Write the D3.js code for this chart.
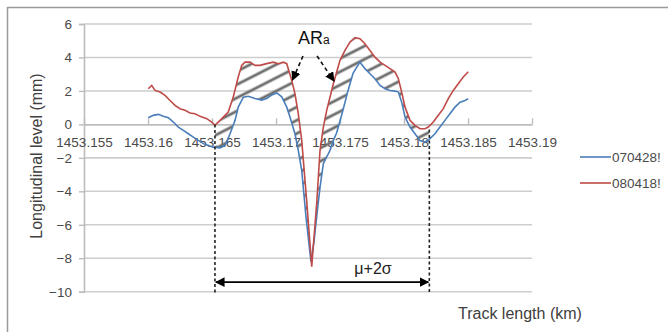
<!DOCTYPE html>
<html><head><meta charset="utf-8">
<script src="https://cdn.jsdelivr.net/npm/d3@7"></script>
<style>
html,body{margin:0;padding:0;background:#fff;}
svg{display:block;font-family:"Liberation Sans",Arial,sans-serif;}
</style></head>
<body>
<svg id="chart" width="668" height="332"></svg>
<script>
// ---- data ----
const xTicks = [1453.155, 1453.16, 1453.165, 1453.17, 1453.175, 1453.18, 1453.185, 1453.19];
const xTickLabels = ["1453.155","1453.16","1453.165","1453.17","1453.175","1453.18","1453.185","1453.19"];
const yTicks = [-10, -8, -6, -4, -2, 0, 2, 4, 6];
const seriesNames = ["070428!", "080418!"];

const blueX = [1453.16002,1453.16041,1453.1608,1453.1612,1453.16159,1453.16198,1453.16237,1453.16276,1453.16315,1453.16354,1453.16393,1453.16432,1453.16471,1453.1651,1453.16563,1453.16602,1453.16641,1453.1668,1453.16705,1453.16745,1453.16784,1453.16836,1453.16888,1453.16927,1453.16966,1453.17006,1453.17045,1453.17084,1453.17109,1453.17148,1453.17174,1453.17201,1453.17234,1453.17273,1453.17297,1453.17318,1453.17344,1453.1737,1453.17396,1453.17422,1453.17448,1453.17474,1453.175,1453.17523,1453.17563,1453.17602,1453.17631,1453.17656,1453.17695,1453.17734,1453.17773,1453.17813,1453.17852,1453.17891,1453.1793,1453.17956,1453.17982,1453.18008,1453.18047,1453.18086,1453.18125,1453.18164,1453.18203,1453.18242,1453.18281,1453.1832,1453.18359,1453.18398,1453.18438,1453.18477,1453.18502];
const blueY = [0.40,0.54,0.60,0.48,0.40,0.14,-0.16,-0.36,-0.56,-0.76,-0.96,-1.15,-1.26,-1.36,-1.40,-1.25,-0.56,0.24,1.03,1.63,1.68,1.55,1.45,1.55,1.75,1.88,1.65,1.03,0.44,-0.56,-1.55,-2.75,-5.5,-8.2,-7.0,-5.5,-3.75,-2.35,-1.95,-1.55,-0.96,-0.5,0.2,0.84,2.03,3.05,3.42,3.72,3.33,3.03,2.73,2.33,2.13,2.03,1.99,1.93,1.33,0.44,-0.16,-0.56,-0.96,-1.06,-0.85,-0.56,-0.16,0.24,0.64,1.03,1.33,1.43,1.54];

const redX = [1453.16002,1453.16029,1453.16055,1453.16094,1453.16133,1453.16172,1453.16211,1453.1625,1453.16289,1453.16328,1453.16367,1453.16406,1453.16459,1453.16498,1453.16523,1453.16563,1453.16602,1453.16627,1453.16666,1453.16705,1453.16732,1453.16758,1453.16797,1453.16836,1453.16875,1453.16927,1453.16979,1453.17018,1453.17057,1453.17084,1453.17123,1453.17148,1453.17174,1453.17201,1453.1724,1453.17279,1453.17318,1453.17344,1453.1737,1453.17396,1453.17448,1453.175,1453.17539,1453.17578,1453.17617,1453.17656,1453.17695,1453.17734,1453.17773,1453.17813,1453.17852,1453.17891,1453.1793,1453.17956,1453.17982,1453.18008,1453.18047,1453.18086,1453.18125,1453.18164,1453.1819,1453.18229,1453.18268,1453.18307,1453.18346,1453.18385,1453.18424,1453.18463,1453.18502];
const redY = [2.13,2.33,2.03,1.93,1.73,1.43,1.14,0.94,0.84,0.68,0.64,0.48,0.34,0.14,-0.06,0.24,0.54,0.74,1.63,2.83,3.53,3.72,3.72,3.53,3.53,3.63,3.72,3.63,3.72,3.63,2.63,1.84,0.64,-0.96,-4.6,-8.5,-4.7,-1.55,-0.16,0.84,2.43,3.83,4.42,4.92,5.18,5.12,4.82,4.42,4.02,3.72,3.53,3.33,3.13,2.73,1.93,1.03,0.24,-0.06,-0.26,-0.26,-0.16,0.14,0.54,0.94,1.54,2.03,2.43,2.83,3.15];

// annotation values
const bandStart = 1453.16523, bandEnd = 1453.18198;
const bandTopY = [0, -0.3];
const arrowLevel = -9.43;
const bandLabel = "μ+2σ";

// ---- drawing ----
const svg = d3.select("#chart");
const x = d3.scaleLinear().domain([1453.155, 1453.19]).range([84, 532]);
const y = d3.scaleLinear().domain([-10, 6]).range([291.7, 24]);
const blue = "#4a7ebb", red = "#be4b48";

// outer frame
svg.append("line").attr("x1",7).attr("x2",668).attr("y1",7.5).attr("y2",7.5).attr("stroke","#9a9a9a").attr("stroke-width",1.5);
svg.append("line").attr("x1",7.5).attr("x2",7.5).attr("y1",7).attr("y2",332).attr("stroke","#9a9a9a").attr("stroke-width",1.5);

const defs = svg.append("defs");
const pat = defs.append("pattern").attr("id","hatch").attr("patternUnits","userSpaceOnUse")
  .attr("width",10).attr("height",11.8).attr("patternTransform","rotate(-27)");
pat.append("line").attr("x1",-1).attr("x2",11).attr("y1",5.9).attr("y2",5.9)
  .attr("stroke","#6f6f6f").attr("stroke-width",2.8);
defs.append("clipPath").attr("id","bandClip").append("rect")
  .attr("x",x(bandStart)).attr("y",0).attr("width",x(bandEnd)-x(bandStart)).attr("height",332);
defs.append("marker").attr("id","arrowEnd").attr("viewBox","0 0 10 10").attr("refX",9).attr("refY",5)
  .attr("markerWidth",6).attr("markerHeight",6).attr("orient","auto-start-reverse").attr("markerUnits","strokeWidth")
  .append("path").attr("d","M0,0L10,5L0,10z").attr("fill","#000");

// gridlines
svg.append("g").selectAll("line").data(yTicks.filter(d=>d!==0)).join("line")
  .attr("x1",x(1453.155)).attr("x2",x(1453.19)).attr("y1",d=>y(d)).attr("y2",d=>y(d))
  .attr("stroke","#cdcdcd").attr("stroke-width",1.6);

// y axis
const yAxis = svg.append("g").attr("transform",`translate(${x(1453.155)},0)`)
  .call(d3.axisLeft(y).tickValues(yTicks).tickSize(5).tickPadding(7));
yAxis.select(".domain").attr("stroke","#bdbdbd").attr("stroke-width",1.6);
yAxis.selectAll(".tick line").attr("stroke","#bdbdbd").attr("stroke-width",1.4);
yAxis.selectAll("text").attr("font-size",13.5).attr("fill","#4a4a4a");

// x axis at y=0
const xAxis = svg.append("g").attr("transform",`translate(0,${y(0)})`)
  .call(d3.axisBottom(x).tickValues(xTicks).tickFormat((d,i)=>xTickLabels[i]).tickSizeInner(-6).tickSizeOuter(0).tickPadding(13));
xAxis.select(".domain").attr("stroke","#bdbdbd").attr("stroke-width",1.6);
xAxis.selectAll(".tick line").attr("stroke","#bdbdbd").attr("stroke-width",1.4);
xAxis.selectAll("text").attr("font-size",13.5).attr("fill","#4a4a4a");

// hatched area between series
const redPts = redX.map((d,i)=>[x(d), y(redY[i])]);
const bluePts = blueX.map((d,i)=>[x(d), y(blueY[i])]);
const poly = redPts.concat(bluePts.slice().reverse());
svg.append("path").attr("d","M"+poly.map(p=>p.join(",")).join("L")+"Z")
  .attr("fill","url(#hatch)").attr("clip-path","url(#bandClip)");

// lines
const line = d3.line().x(d=>d[0]).y(d=>d[1]);
svg.append("path").attr("d",line(bluePts)).attr("fill","none").attr("stroke",blue).attr("stroke-width",1.6);
svg.append("path").attr("d",line(redPts)).attr("fill","none").attr("stroke",red).attr("stroke-width",1.6);

// dashed vertical markers
[bandStart, bandEnd].forEach((v,i)=>{
  svg.append("line").attr("x1",x(v)).attr("x2",x(v)).attr("y1",y(bandTopY[i])).attr("y2",y(-10.1))
    .attr("stroke","#222").attr("stroke-width",1.6).attr("stroke-dasharray","3,2.5");
});
// double arrow
svg.append("line").attr("x1",x(bandStart)+1).attr("x2",x(bandEnd)-1).attr("y1",y(arrowLevel)).attr("y2",y(arrowLevel))
  .attr("stroke","#000").attr("stroke-width",1.6)
  .attr("marker-start","url(#arrowEnd)").attr("marker-end","url(#arrowEnd)");
svg.append("text").attr("x",x(1453.17758)).attr("y",y(-8.6)+5.5).attr("text-anchor","middle")
  .attr("font-size",16).attr("fill","#222").text(bandLabel);

// AR_a label with dashed arrows
const arT = svg.append("text").attr("x",298).attr("y",43.5).attr("font-size",18).attr("fill","#111");
arT.append("tspan").text("AR");
arT.append("tspan").attr("font-size",12).text("a");
svg.append("line").attr("x1",303).attr("y1",56).attr("x2",292.5).attr("y2",80)
  .attr("stroke","#111").attr("stroke-width",1.6).attr("stroke-dasharray","4,3").attr("marker-end","url(#arrowEnd)");
svg.append("line").attr("x1",317).attr("y1",56).attr("x2",334).attr("y2",81)
  .attr("stroke","#111").attr("stroke-width",1.6).attr("stroke-dasharray","4,3").attr("marker-end","url(#arrowEnd)");

// axis titles
svg.append("text").attr("transform","translate(42,156) rotate(-90)").attr("text-anchor","middle")
  .attr("font-size",16).attr("fill","#404040").text("Longitudinal level (mm)");
svg.append("text").attr("x",458).attr("y",319).attr("font-size",16).attr("fill","#404040").text("Track length (km)");

// legend
const legColors = [blue, red];
const leg = svg.append("g").selectAll("g").data(seriesNames).join("g")
  .attr("transform",(d,i)=>`translate(580,${157 + i*26})`);
leg.append("line").attr("x1",0).attr("x2",31).attr("stroke",(d,i)=>legColors[i]).attr("stroke-width",1.6);
leg.append("text").attr("x",32).attr("y",5).attr("font-size",13.5).attr("fill","#4a4a4a").text(d=>d);
</script>
</body></html>
